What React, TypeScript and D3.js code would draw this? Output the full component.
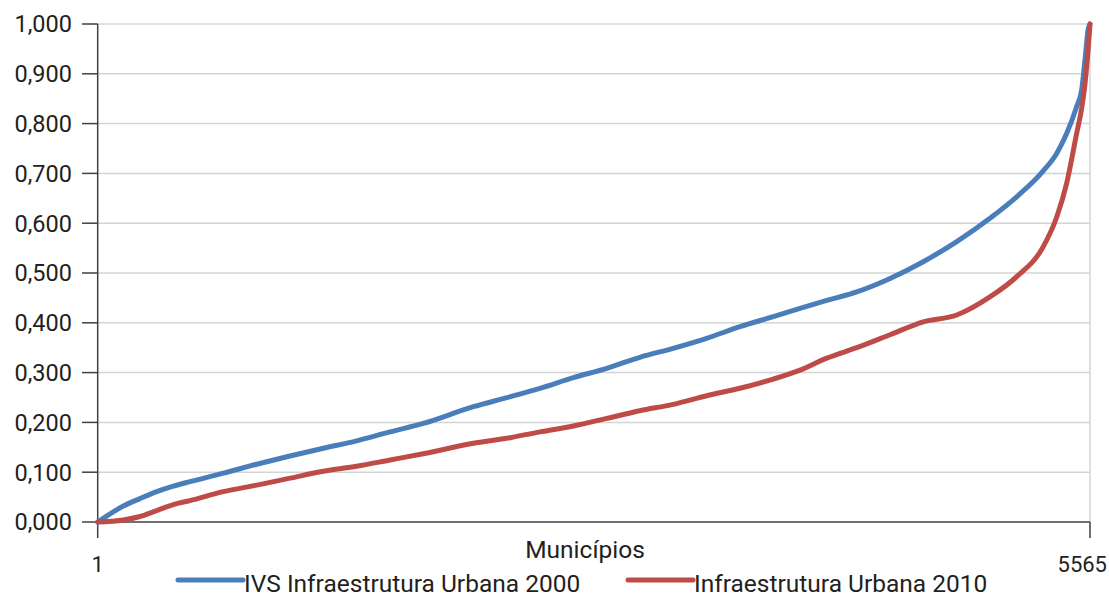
import * as d3 from "d3";

// posição do município (ordenado) e valores
const municipios = [
  1, 145, 238, 332, 425, 518, 705, 893, 1079, 1266, 1453, 1640, 1827, 2107,
  2294, 2481, 2668, 2855, 3041, 3228, 3416, 3602, 3789, 3939, 4089, 4257,
  4444, 4630, 4818, 5004, 5154, 5303, 5378, 5434, 5490, 5518, 5537, 5555,
  5565,
];

const ivs2000 = [
  0, 0.032, 0.047, 0.061, 0.072, 0.081, 0.098, 0.116, 0.1325, 0.148, 0.163,
  0.181, 0.198, 0.2315, 0.2496, 0.2685, 0.2898, 0.3086, 0.3307, 0.3488,
  0.3689, 0.3922, 0.4122, 0.429, 0.445, 0.462, 0.489, 0.5227, 0.563, 0.6098,
  0.653, 0.705, 0.74, 0.78, 0.834, 0.867, 0.928, 0.99, 1.0,
];

const ivs2010 = [
  0, 0.004, 0.011, 0.023, 0.035, 0.043, 0.061, 0.074, 0.088, 0.102, 0.112,
  0.1245, 0.137, 0.158, 0.168, 0.181, 0.1928, 0.208, 0.2235, 0.2363, 0.2536,
  0.2685, 0.287, 0.305, 0.329, 0.35, 0.376, 0.402, 0.4157, 0.452, 0.4926,
  0.553, 0.612, 0.68, 0.78, 0.83, 0.88, 0.95, 1.0,
];

const yTicks = [0, 0.1, 0.2, 0.3, 0.4, 0.5, 0.6, 0.7, 0.8, 0.9, 1.0];
const xTicks = [1, 5565];

const series = [
  { name: "IVS Infraestrutura Urbana 2000", values: ivs2000, color: "#4A7EBB" },
  { name: "Infraestrutura Urbana 2010", values: ivs2010, color: "#BE4B48" },
];

const dims = { width: 1109, height: 607, left: 97.7, right: 1090, top: 24, bottom: 522 };
const font = "'Roboto', sans-serif";
const ink = "#231f20";

export default function App() {
  const x = d3.scaleLinear().domain([1, 5565]).range([dims.left, dims.right]);
  const y = d3.scaleLinear().domain([0, 1]).range([dims.bottom, dims.top]);
  const fmt = (v: number) => d3.format(".3f")(v).replace(".", ",");

  const line = d3
    .line<number>()
    .x((_, i) => x(municipios[i]))
    .y((d) => y(d))
    .curve(d3.curveMonotoneX);

  return (
    <div style={{ position: "absolute", left: 0, top: 0 }}>
      <svg width={dims.width} height={dims.height} style={{ display: "block", background: "#fff" }}>
        {yTicks.slice(1).map((t) => (
          <line key={t} x1={dims.left} x2={dims.right} y1={y(t)} y2={y(t)} stroke="#d4d4d4" strokeWidth={1.5} />
        ))}
        <line x1={dims.right} x2={dims.right} y1={dims.top} y2={dims.bottom} stroke="#d4d4d4" strokeWidth={1.5} />

        {/* eixo y */}
        <line x1={dims.left} x2={dims.left} y1={dims.top} y2={dims.bottom} stroke="#404040" strokeWidth={1.5} />
        {yTicks.map((t) => (
          <g key={t}>
            <line x1={82} x2={dims.left} y1={y(t)} y2={y(t)} stroke="#404040" strokeWidth={1.5} />
            <text x={72} y={y(t)} dy="0.36em" textAnchor="end" fontFamily={font} fontSize={23.5} fill={ink}>
              {fmt(t)}
            </text>
          </g>
        ))}

        {/* eixo x */}
        <line x1={dims.left} x2={dims.right} y1={dims.bottom} y2={dims.bottom} stroke="#404040" strokeWidth={1.5} />
        {xTicks.map((t) => (
          <line key={t} x1={x(t)} x2={x(t)} y1={dims.bottom} y2={538} stroke="#404040" strokeWidth={1.5} />
        ))}
        <text x={x(1)} y={572} textAnchor="middle" fontFamily={font} fontSize={22} fill={ink}>1</text>
        <text x={1107} y={572} textAnchor="end" fontFamily={font} fontSize={22} fill={ink}>5565</text>
        <text x={585} y={558} textAnchor="middle" fontFamily={font} fontSize={24.5} fill={ink}>Municípios</text>

        {series.map((s) => (
          <path key={s.name} d={line(s.values) ?? ""} fill="none" stroke={s.color} strokeWidth={5}
            strokeLinecap="round" strokeLinejoin="round" />
        ))}

        {/* legenda */}
        {series.map((s, i) => {
          const lx = i === 0 ? 178 : 628;
          return (
            <g key={s.name}>
              <line x1={lx} x2={lx + 65} y1={580} y2={580} stroke={s.color} strokeWidth={5} strokeLinecap="round" />
              <text x={lx + 66} y={592} fontFamily={font} fontSize={24.5} fill={ink}>{s.name}</text>
            </g>
          );
        })}
      </svg>
    </div>
  );
}
